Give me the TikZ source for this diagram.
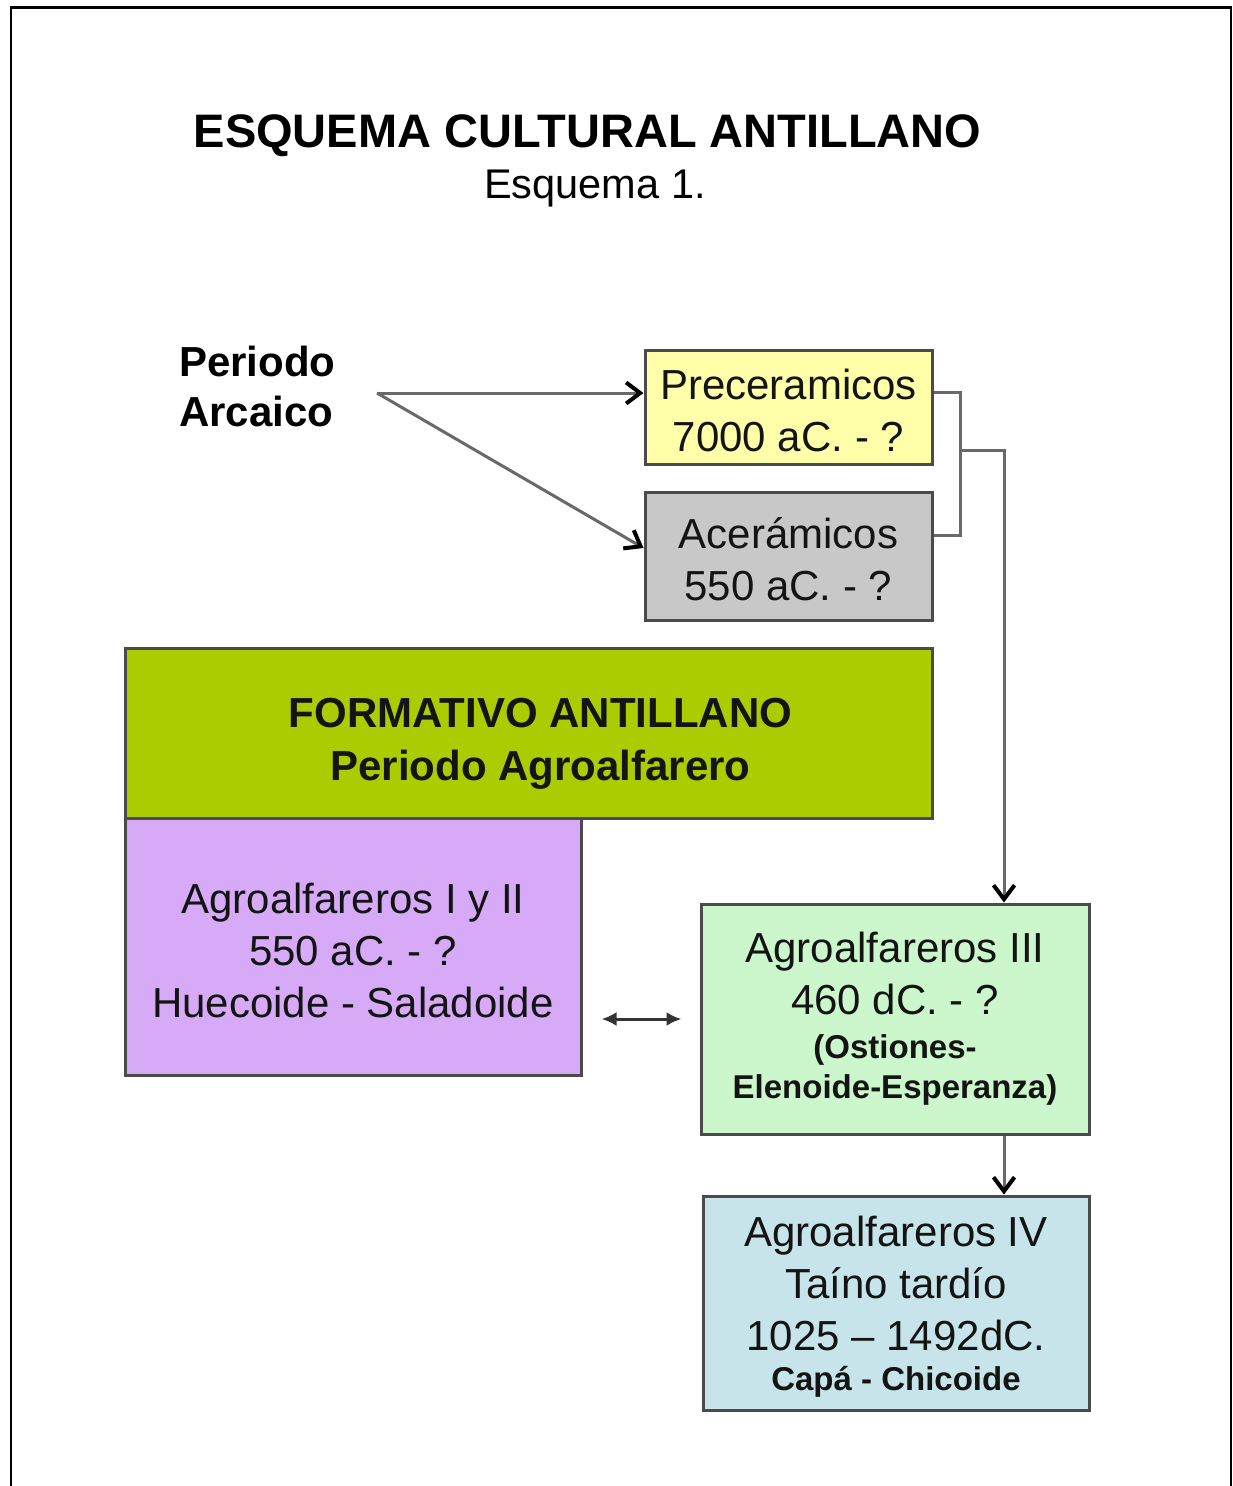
\documentclass[tikz,border=0pt]{standalone}
\usepackage{fontspec}
\setmainfont{Liberation Sans}
\usetikzlibrary{arrows.meta}
\definecolor{cyel}{RGB}{255,255,170}
\definecolor{cgray}{RGB}{200,200,200}
\definecolor{cgreen}{RGB}{170,204,0}
\definecolor{clav}{RGB}{214,170,246}
\definecolor{cmint}{RGB}{204,246,204}
\definecolor{cblue}{RGB}{198,228,234}
\definecolor{cline}{RGB}{105,105,105}
\definecolor{cborder}{RGB}{75,75,75}
\definecolor{ctext}{RGB}{20,20,20}
\tikzset{
  box/.style={draw=cborder, line width=3pt, rectangle, inner sep=0pt, align=center, text=ctext,
    font=\fontsize{42}{52}\selectfont},
  conn/.style={draw=cline, line width=3pt},
  openarrow/.style={conn, -{Straight Barb[length=14pt,width=21pt,line width=4pt,color=black]}},
  dblarrow/.style={draw=black!80, line width=3pt, {Latex[length=15pt,width=14pt]}-{Latex[length=15pt,width=14pt]}}
}
\newcommand{\smb}[1]{{\fontsize{33}{40}\selectfont\bfseries #1}}
\newcommand{\topstrut}[1]{\rule{0pt}{#1}}
\begin{document}
\begin{tikzpicture}[x=1pt,y=-1pt]
\useasboundingbox (0,0) rectangle (1232,1486);
\fill[white] (0,0) rectangle (1232,1486);
% frame
\draw[line width=2.5pt] (11,1486) -- (11,7);
\draw[line width=3pt] (9.75,7) -- (1231,7);
\draw[line width=1.5pt] (1231,5.5) -- (1231,1486);

% titles
\node[anchor=base, inner sep=0pt, font=\fontsize{47}{56}\selectfont\bfseries] (title) at (587.5,147) {ESQUEMA CULTURAL ANTILLANO};
\node[anchor=base, inner sep=0pt, font=\fontsize{41.5}{48}\selectfont] (sub) at (595,198) {Esquema 1.};

\node[anchor=north west, inner sep=0pt, align=left, font=\fontsize{42}{50}\selectfont\bfseries] (arc) at (179,346) {Periodo\\Arcaico};

% boxes
\node[box, fill=cyel, minimum width=287pt, minimum height=114pt] (pre) at (788.5,407) {\topstrut{37pt}Preceramicos\\7000 aC. - ?};
\node[box, fill=cgray, minimum width=287pt, minimum height=128pt] (ace) at (788.5,556) {\topstrut{37pt}Acerámicos\\550 aC. - ?};
\node[box, fill=cgreen, minimum width=807pt, minimum height=170pt, font=\fontsize{42}{53}\selectfont\bfseries] (form) at (528.5,733) {\topstrut{50pt}\hspace*{24pt}FORMATIVO ANTILLANO\\\hspace*{24pt}Periodo Agroalfarero};
\node[box, fill=clav, minimum width=456pt, minimum height=257pt] (agro12) at (353,946.5) {\topstrut{38pt}Agroalfareros I y II\\550 aC. - ?\\Huecoide - Saladoide};
\node[box, fill=cmint, minimum width=388pt, minimum height=230pt] (agro3) at (895,1019) {Agroalfareros III\\460 dC. - ?\\[-8pt]\smb{(Ostiones-}\\[-12pt]\smb{Elenoide-Esperanza)}};
\node[box, fill=cblue, minimum width=386pt, minimum height=214pt] (agro4) at (896,1303) {\topstrut{38pt}Agroalfareros IV\\Taíno tardío\\1025 – 1492dC.\\[-12pt]\smb{Capá - Chicoide}};

% connectors
\coordinate (fork) at (377,393);
\draw[openarrow] (fork) -- ([yshift=14pt]pre.west);
\draw[openarrow] (fork) -- ([yshift=8pt]ace.west);

\coordinate (brk) at (960,450);
\draw[conn] ([yshift=15pt]pre.east) -- ([yshift=15pt]pre.east -| brk) -- ([yshift=21pt]ace.east -| brk) -- ([yshift=21pt]ace.east);
\coordinate (drop) at (1004,450);
\draw[openarrow] (brk) -- (drop) -- (drop |- agro3.north);
\draw[openarrow] (drop |- agro3.south) -- (drop |- agro4.north);

\draw[dblarrow, shorten >=18pt] ([xshift=19pt]agro12.east |- agro3.west) -- (agro3.west);
\end{tikzpicture}
\end{document}
